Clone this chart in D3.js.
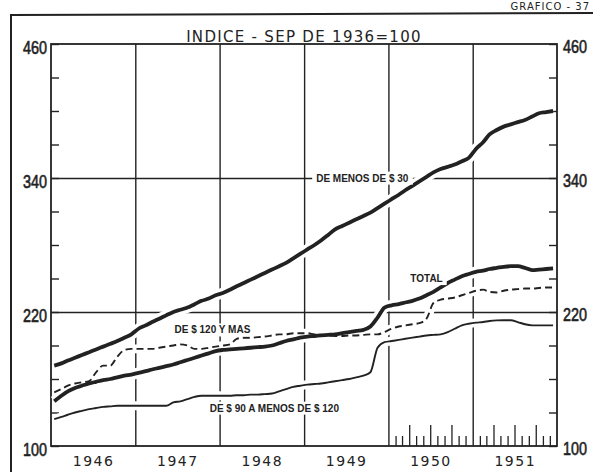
<!DOCTYPE html>
<html>
<head>
<meta charset="utf-8">
<script src="https://cdn.jsdelivr.net/npm/d3@7"></script>
<style>
  body { margin: 0; background: #fff; }
  .num { font-family: "Liberation Sans", Arial, sans-serif; font-size: 18px; fill: #222; stroke: #222; stroke-width: 0.6px; }
  .yr { font-family: "DejaVu Sans", sans-serif; font-size: 14px; letter-spacing: 1.5px; fill: #222; }
  .lbl { font-family: "Liberation Sans", Arial, sans-serif; font-size: 10px; font-weight: bold; fill: #222; }
</style>
</head>
<body>
<div id="chart"></div>
<script>
// Índice - sep de 1936 = 100, valores mensuales 1946-1951
const years = [1946, 1947, 1948, 1949, 1950, 1951];
const indexTicks = [100, 130, 160, 190, 220, 250, 280, 310, 340, 370, 400, 430, 460];
const labeledTicks = [100, 220, 340, 460];

const menos30 = [
  172, 174, 176.5, 179, 181.5, 184, 186.5, 189, 191.5, 194, 197, 200,
  205, 208, 211, 214, 217, 220, 222, 224, 227, 230, 232, 235,
  237, 240, 243, 246, 249, 252, 255, 258, 261, 264, 268, 272,
  276, 280, 284, 289, 294, 297, 300, 303, 306, 309, 313, 317,
  321, 325, 329, 333, 337, 341, 345, 348, 350, 352, 355, 358,
  366, 372, 379, 383, 386, 388, 390, 392, 395, 398, 399, 400
];
const total = [
  140, 145, 149, 152, 154, 156, 157.5, 159, 160, 161.5, 163, 164,
  165.5, 167, 168.5, 170, 171.5, 173, 175, 177, 179, 181, 183, 185,
  186, 186.5, 187, 187.5, 188, 188.5, 189, 190, 192, 194, 195.5, 197,
  198, 198.5, 199, 199.5, 200, 201, 202, 203, 204, 207, 215, 224,
  226, 227, 228.5, 230, 232, 235, 238, 242, 246, 249, 252, 254,
  256, 257, 258.5, 259.5, 260.5, 261, 261, 259.5, 257.5, 258, 258.5, 259
];
const de120ymas = [
  148, 151, 154, 156, 157, 158, 166, 172, 172, 180, 186, 187,
  187, 187, 187, 188, 189, 190, 191, 190, 187, 187, 188, 189,
  190, 191, 196, 197, 197, 197.5, 198, 199, 200, 200, 201, 201,
  201, 200, 199.5, 199, 198.5, 198.5, 199, 199, 199.5, 200, 200, 202,
  205, 207, 208, 209, 210, 214, 228, 231, 232, 233, 235, 237,
  239, 240, 238, 237.5, 239, 240, 240.5, 241, 241, 241.5, 242, 242
];
const de90a120 = [
  124, 126, 128, 130, 131.5, 133, 134, 135, 135.5, 136, 136, 136,
  136, 136, 136, 136, 136, 139, 140, 142, 144, 145, 145, 145,
  145, 145, 145.5, 145.5, 146, 146, 146.5, 147, 149, 151, 153, 154,
  155, 155.5, 156, 157, 158, 159, 160, 161.5, 163, 166, 188, 193,
  194, 195, 196, 197, 198, 199, 199.5, 200, 202, 205, 208, 209.5,
  210.5, 211, 212, 212.5, 212.6, 212.6, 211, 209, 208, 208, 208, 208
];

const series = [
  { name: "menos30", values: menos30, width: 3.8, dash: null },
  { name: "total", values: total, width: 3.8, dash: null },
  { name: "de120", values: de120ymas, width: 1.9, dash: "7,4" },
  { name: "de90", values: de90a120, width: 1.9, dash: null }
];

const W = 593, H = 472;
const margin = { top: 44, right: 36, bottom: 26, left: 51 };
const ink = "#222";

const months = d3.timeMonth.range(new Date(1946, 0, 1), new Date(1952, 0, 1));
const dates = months.map((m) => d3.timeDay.offset(m, 14));

const svg = d3.select("#chart").append("svg")
  .attr("width", W).attr("height", H);

svg.append("rect").attr("width", W).attr("height", H).attr("fill", "#fff");

const x = d3.scaleTime()
  .domain([new Date(1946, 0, 1), new Date(1952, 0, 1)])
  .range([margin.left, W - margin.right]);
const y = d3.scaleLinear()
  .domain([100, 460])
  .range([H - margin.bottom, margin.top]);

const plotH = y(100) - y(460);

// marco exterior
svg.append("path")
  .attr("d", `M11,${H} L11,15 L${W},13`)
  .attr("fill", "none").attr("stroke", ink).attr("stroke-width", 2);

svg.append("text")
  .attr("x", 590).attr("y", 10)
  .attr("text-anchor", "end")
  .attr("class", "yr")
  .style("font-size", "10px")
  .style("letter-spacing", "1px")
  .text("GRAFICO - 37");

// titulo
svg.append("text")
  .attr("x", 304).attr("y", 42)
  .attr("text-anchor", "middle")
  .attr("class", "yr")
  .style("font-size", "15px")
  .style("letter-spacing", "1.3px")
  .text("INDICE - SEP DE 1936=100");

// lineas de division: años
svg.append("g")
  .attr("transform", `translate(0,${y(100)})`)
  .call(d3.axisBottom(x)
    .tickValues(years.slice(1).map((yr) => new Date(yr, 0, 1)))
    .tickSize(-plotH).tickFormat(""))
  .call((g) => g.select(".domain").remove())
  .selectAll("line").attr("stroke", ink).attr("stroke-width", 1.4);

// lineas horizontales 220 y 340
svg.append("g")
  .attr("transform", `translate(${margin.left},0)`)
  .call(d3.axisLeft(y).tickValues([220, 340])
    .tickSize(-(W - margin.right - margin.left)).tickFormat(""))
  .call((g) => g.select(".domain").remove())
  .selectAll("line").attr("stroke", ink).attr("stroke-width", 1.4);

// marcas mensuales 1950-1951
const monthTicks = d3.timeMonth.range(new Date(1950, 1, 1), new Date(1952, 0, 1))
  .filter((d) => d.getMonth() !== 0);
const tall = monthTicks.filter((d) => d.getMonth() % 3 === 0);
const short = monthTicks.filter((d) => d.getMonth() % 3 !== 0);
[[short, 10], [tall, 21]].forEach(([vals, len]) => {
  svg.append("g")
    .attr("transform", `translate(0,${y(100)})`)
    .call(d3.axisBottom(x).tickValues(vals).tickSize(-len).tickFormat(""))
    .call((g) => g.select(".domain").remove())
    .selectAll("line").attr("stroke", ink).attr("stroke-width", 1.3);
});

// numeros estrechos, como en el original
function narrow(g) {
  g.selectAll("text")
    .attr("class", "num").attr("font-family", null).attr("font-size", null)
    .filter(function () { return this.textContent !== ""; })
    .attr("textLength", 24)
    .attr("lengthAdjust", "spacingAndGlyphs");
}

// ejes verticales
svg.append("g")
  .attr("transform", `translate(${margin.left},0)`)
  .call(d3.axisLeft(y).tickValues(indexTicks).tickSize(-8).tickPadding(4)
    .tickFormat((d) => (labeledTicks.includes(d) ? d : "")))
  .call((g) => g.select(".domain").remove())
  .call((g) => g.selectAll("line").attr("stroke", ink).attr("stroke-width", 1.4))
  .call(narrow)
  .call((g) => g.selectAll("text").attr("dy", "0.5em"));

svg.append("g")
  .attr("transform", `translate(${W - margin.right},0)`)
  .call(d3.axisRight(y).tickValues(indexTicks).tickSize(-8).tickPadding(6)
    .tickFormat((d) => (labeledTicks.includes(d) ? d : "")))
  .call((g) => g.select(".domain").remove())
  .call((g) => g.selectAll("line").attr("stroke", ink).attr("stroke-width", 1.4))
  .call(narrow)
  .call((g) => g.selectAll("text").attr("dy", "0.45em"));

// eje de años
svg.append("g")
  .attr("transform", `translate(0,${y(100)})`)
  .call(d3.axisBottom(x)
    .tickValues(years.map((yr) => new Date(yr, 6, 2)))
    .tickSize(0).tickPadding(10)
    .tickFormat(d3.timeFormat("%Y")))
  .call((g) => g.select(".domain").remove())
  .selectAll("text").attr("class", "yr").attr("font-family", null).attr("font-size", null);

// recuadro
svg.append("rect")
  .attr("x", margin.left).attr("y", y(460))
  .attr("width", W - margin.right - margin.left).attr("height", plotH)
  .attr("fill", "none").attr("stroke", ink).attr("stroke-width", 1.8);

const line = d3.line()
  .x((d, i) => x(dates[i]))
  .y((d) => y(d))
  .curve(d3.curveMonotoneX);

// halo blanco que corta la cuadricula
svg.append("g").selectAll("path")
  .data(series)
  .join("path")
  .attr("d", (s) => line(s.values))
  .attr("fill", "none")
  .attr("stroke", "#fff")
  .attr("stroke-width", (s) => s.width + 7);

svg.append("g").selectAll("path")
  .data(series)
  .join("path")
  .attr("d", (s) => line(s.values))
  .attr("fill", "none")
  .attr("stroke", ink)
  .attr("stroke-width", (s) => s.width)
  .attr("stroke-dasharray", (s) => s.dash)
  .attr("stroke-linejoin", "round");

// rotulos de las series
const labels = [
  { text: "DE MENOS DE $ 30", date: new Date(1949, 8, 10), value: 340 },
  { text: "TOTAL", date: new Date(1950, 5, 15), value: 250 },
  { text: "DE $ 120 Y MAS", date: new Date(1947, 11, 1), value: 204 },
  { text: "DE $ 90 A MENOS DE $ 120", date: new Date(1948, 7, 25), value: 134 }
];

const lg = svg.append("g").selectAll("g").data(labels).join("g");
lg.append("text")
  .attr("class", "lbl")
  .attr("x", (d) => x(d.date))
  .attr("y", (d) => y(d.value))
  .attr("dy", "0.36em")
  .attr("text-anchor", "middle")
  .text((d) => d.text);
lg.insert("rect", "text")
  .each(function () {
    const b = this.parentNode.querySelector("text").getBBox();
    d3.select(this)
      .attr("x", b.x - 4).attr("y", b.y - 1)
      .attr("width", b.width + 8).attr("height", b.height + 2)
      .attr("fill", "#fff");
  });
</script>
</body>
</html>
